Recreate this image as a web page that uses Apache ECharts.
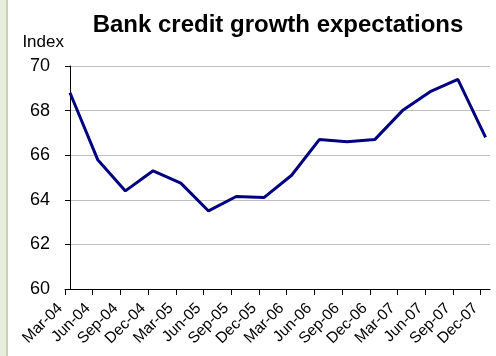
<!DOCTYPE html>
<html>
<head>
<meta charset="utf-8">
<script src="https://cdn.jsdelivr.net/npm/echarts@6/dist/echarts.min.js"></script>
<style>html,body{margin:0;padding:0;background:#fff;}#c{width:496px;height:356px;}</style>
</head>
<body>
<div id="c"></div>
<script>
var categories = ['Mar-04','Jun-04','Sep-04','Dec-04','Mar-05','Jun-05','Sep-05','Dec-05','Mar-06','Jun-06','Sep-06','Dec-06','Mar-07','Jun-07','Sep-07','Dec-07'];
var values = [68.8, 65.8, 64.4, 65.3, 64.75, 63.5, 64.15, 64.1, 65.1, 66.7, 66.6, 66.7, 68.0, 68.85, 69.4, 66.8];
var yTicks = [60, 62, 64, 66, 68, 70];

var tickShift = -0.18;
var seriesData = values.map(function (v, i) { return [i, v]; });
var tickVals = categories.map(function (c, i) { return i + tickShift; });

var chart = echarts.init(document.getElementById('c'), null, {renderer: 'canvas'});
chart.setOption({
  animation: false,
  backgroundColor: '#ffffff',
  title: {
    text: 'Bank credit growth expectations',
    left: 278, top: 13, padding: 0,
    textAlign: 'center',
    textStyle: {fontFamily: 'Liberation Sans, Arial', fontWeight: 'bold', fontSize: 24, color: '#000'}
  },
  graphic: [
    {type: 'rect', shape: {x: 0, y: 0, width: 6, height: 356}, style: {fill: '#e9eddb'}, silent: true},
    {type: 'rect', shape: {x: 6, y: 0, width: 2, height: 356}, style: {fill: '#c9d3ab'}, silent: true}
  ],
  grid: {left: 65, right: 6, top: 66, bottom: 67, containLabel: false},
  xAxis: {
    type: 'value',
    min: tickShift,
    max: categories.length - 1 + 0.16,
    axisLine: {show: true, lineStyle: {color: '#000', width: 1}},
    axisTick: {show: true, length: 6, lineStyle: {color: '#000'}, customValues: tickVals},
    axisLabel: {
      customValues: tickVals,
      rotate: 45, margin: 12,
      padding: [0, 7, 0, 0],
      fontFamily: 'Liberation Sans, Arial', fontSize: 15.5, color: '#000',
      formatter: function (v) { return categories[Math.round(v - tickShift)] || ''; }
    },
    splitLine: {show: false}
  },
  yAxis: {
    type: 'value',
    min: yTicks[0], max: yTicks[yTicks.length - 1], interval: 2,
    name: 'Index',
    nameLocation: 'end',
    nameGap: 24,
    nameTextStyle: {fontFamily: 'Liberation Sans, Arial', fontSize: 17, color: '#000', align: 'right', verticalAlign: 'middle', padding: [0, 6, 0, 0]},
    axisLine: {show: true, lineStyle: {color: '#000', width: 1}},
    axisTick: {show: true, length: 5, lineStyle: {color: '#000'}},
    axisLabel: {margin: 15, fontFamily: 'Liberation Sans, Arial', fontSize: 18, color: '#000'},
    splitLine: {show: true, lineStyle: {color: '#c0c0c0', width: 1}}
  },
  series: [{
    type: 'line',
    data: seriesData,
    showSymbol: false,
    lineStyle: {color: '#000080', width: 3},
    itemStyle: {color: '#000080'}
  }]
});
</script>
</body>
</html>
